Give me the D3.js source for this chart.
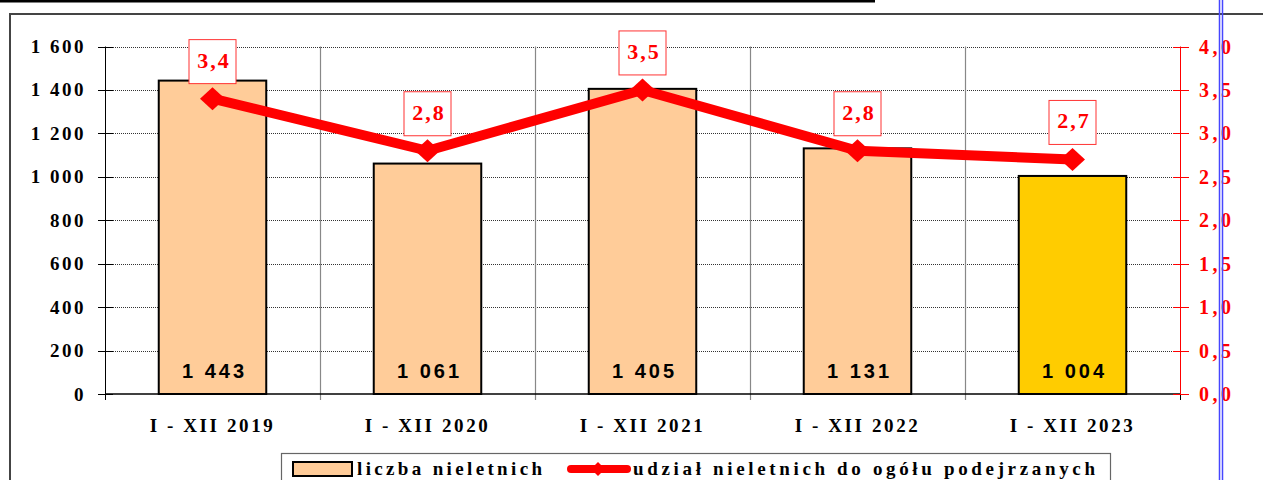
<!DOCTYPE html>
<html>
<head>
<meta charset="utf-8">
<script src="https://cdn.jsdelivr.net/npm/d3@7"></script>
<style>
  body { margin: 0; background: #fff; }
  svg { display: block; }
</style>
</head>
<body>
<svg width="1263" height="480"></svg>
<script>
// data
var categories = ["I - XII 2019", "I - XII 2020", "I - XII 2021", "I - XII 2022", "I - XII 2023"];
var counts = [1443, 1061, 1405, 1131, 1004];
var shares = [3.4, 2.8, 3.5, 2.8, 2.7];
var leftTicks = [0, 200, 400, 600, 800, 1000, 1200, 1400, 1600];
var rightTicks = [0, 0.5, 1, 1.5, 2, 2.5, 3, 3.5, 4];
var legendLabels = ["liczba nieletnich", "udział nieletnich do ogółu podejrzanych"];

var svg = d3.select("svg");
var serif = "'Liberation Serif', 'Times New Roman', serif";
var sans = "'Liberation Sans', Arial, sans-serif";

var plot = {left: 105, right: 1180, top: 46.5, bottom: 394};

// scales
var x = d3.scaleBand().domain(categories).range([plot.left, plot.right]);
var yLeft = d3.scaleLinear().domain([0, 1600]).range([plot.bottom, plot.top]);
var yRight = d3.scaleLinear().domain([0, 4]).range([plot.bottom, plot.top]);
var comma = function(v) { return d3.format(".1f")(v).replace(".", ","); };
var spaced = function(v) { return d3.format(",")(v).replace(/,/g, " "); };

// cut-off title underline and outer frame
svg.append("rect").attr("x", 0).attr("y", 0).attr("width", 875).attr("height", 2.5).attr("fill", "#000");
svg.append("path")
  .attr("d", "M10,480 V14 H1263")
  .attr("fill", "none").attr("stroke", "#444").attr("stroke-width", 2);

// horizontal gridlines
svg.append("g").selectAll("line")
  .data(leftTicks.slice(1))
  .enter().append("line")
  .attr("x1", plot.left).attr("x2", plot.right)
  .attr("y1", function(d) { return Math.round(yLeft(d)) + 0.5; })
  .attr("y2", function(d) { return Math.round(yLeft(d)) + 0.5; })
  .attr("stroke", "#333").attr("stroke-width", 1).attr("stroke-dasharray", "1,1");

// vertical gridlines at category boundaries
svg.append("g").selectAll("line")
  .data(categories.slice(1))
  .enter().append("line")
  .attr("x1", function(d) { return Math.round(x(d)) + 0.5; })
  .attr("x2", function(d) { return Math.round(x(d)) + 0.5; })
  .attr("y1", plot.top).attr("y2", plot.bottom + 6)
  .attr("stroke", "#888").attr("stroke-width", 1.2);

// bars
svg.append("g").selectAll("rect")
  .data(counts)
  .enter().append("rect")
  .attr("x", function(d, i) { return x(categories[i]) + x.bandwidth() / 4; })
  .attr("width", x.bandwidth() / 2)
  .attr("y", function(d) { return yLeft(d); })
  .attr("height", function(d) { return plot.bottom - yLeft(d); })
  .attr("fill", function(d, i) { return i === 4 ? "#FFCC00" : "#FFCC99"; })
  .attr("stroke", "#000").attr("stroke-width", 2);

// bar value labels
svg.append("g").selectAll("text")
  .data(counts)
  .enter().append("text")
  .attr("x", function(d, i) { return x(categories[i]) + x.bandwidth() / 2 + 2; })
  .attr("y", 378)
  .attr("text-anchor", "middle")
  .attr("font-family", sans).attr("font-weight", "bold").attr("font-size", 20)
  .attr("letter-spacing", 3)
  .text(function(d) { return spaced(d); });

// left axis
var gl = svg.append("g");
gl.append("line").attr("x1", plot.left + 0.5).attr("x2", plot.left + 0.5)
  .attr("y1", plot.top).attr("y2", plot.bottom + 6).attr("stroke", "#000");
gl.selectAll(".tk").data(leftTicks).enter().append("line")
  .attr("x1", 98).attr("x2", 113)
  .attr("y1", function(d) { return Math.round(yLeft(d)) + 0.5; })
  .attr("y2", function(d) { return Math.round(yLeft(d)) + 0.5; })
  .attr("stroke", "#000");
gl.selectAll("text").data(leftTicks).enter().append("text")
  .attr("x", 86)
  .attr("y", function(d) { return yLeft(d) + 6.5; })
  .attr("text-anchor", "end")
  .attr("font-family", serif).attr("font-weight", "bold").attr("font-size", 19)
  .attr("letter-spacing", 2.5)
  .text(function(d) { return spaced(d); });

// category axis
var gx = svg.append("g");
gx.append("line").attr("x1", plot.left).attr("x2", plot.right)
  .attr("y1", plot.bottom).attr("y2", plot.bottom).attr("stroke", "#000").attr("stroke-width", 1.5);
gx.append("line").attr("x1", plot.right + 0.5).attr("x2", plot.right + 0.5)
  .attr("y1", plot.bottom).attr("y2", plot.bottom + 6).attr("stroke", "#000");
gx.selectAll("text").data(categories).enter().append("text")
  .attr("x", function(d) { return x(d) + x.bandwidth() / 2; })
  .attr("y", 432)
  .attr("text-anchor", "middle")
  .attr("font-family", serif).attr("font-weight", "bold").attr("font-size", 19)
  .attr("letter-spacing", 2.6)
  .text(function(d) { return d; });

// right axis (red)
var gr = svg.append("g");
gr.append("line").attr("x1", plot.right + 0.5).attr("x2", plot.right + 0.5)
  .attr("y1", plot.top).attr("y2", plot.bottom).attr("stroke", "#f00");
gr.selectAll(".tk").data(rightTicks).enter().append("line")
  .attr("x1", 1173).attr("x2", 1189)
  .attr("y1", function(d) { return Math.round(yRight(d)) + 0.5; })
  .attr("y2", function(d) { return Math.round(yRight(d)) + 0.5; })
  .attr("stroke", "#f00");
gr.selectAll("text").data(rightTicks).enter().append("text")
  .attr("x", 1199)
  .attr("y", function(d) { return yRight(d) + 7; })
  .attr("fill", "#f00")
  .attr("font-family", serif).attr("font-weight", "bold").attr("font-size", 20)
  .attr("letter-spacing", 3.5)
  .text(function(d) { return comma(d); });

// share line
var line = d3.line()
  .x(function(d, i) { return x(categories[i]) + x.bandwidth() / 2; })
  .y(function(d) { return yRight(d); });
svg.append("path").datum(shares)
  .attr("d", line)
  .attr("fill", "none").attr("stroke", "#f00").attr("stroke-width", 10)
  .attr("stroke-linejoin", "round");
svg.append("g").selectAll("path")
  .data(shares)
  .enter().append("path")
  .attr("transform", function(d, i) { return "translate(" + (x(categories[i]) + x.bandwidth() / 2) + "," + yRight(d) + ")"; })
  .attr("d", "M-12.5,0 L0,-11.5 L12.5,0 L0,11.5 Z")
  .attr("fill", "#f00");

// share labels in boxes
var lab = svg.append("g").selectAll("g")
  .data(shares)
  .enter().append("g")
  .attr("transform", function(d, i) { return "translate(" + (x(categories[i]) + x.bandwidth() / 2) + "," + (yRight(d) - 15) + ")"; });
lab.append("rect")
  .attr("x", -23.5).attr("y", -44).attr("width", 47).attr("height", 44)
  .attr("fill", "#fff").attr("stroke", "#f33").attr("stroke-width", 1);
lab.append("text")
  .attr("x", 1.5).attr("y", -16)
  .attr("text-anchor", "middle")
  .attr("fill", "#f00")
  .attr("font-family", serif).attr("font-weight", "bold").attr("font-size", 22)
  .attr("letter-spacing", 2)
  .text(function(d) { return comma(d); });

// blue page guide
svg.append("line").attr("x1", 1219.5).attr("x2", 1219.5).attr("y1", 0).attr("y2", 480)
  .attr("stroke", "#4646ff").attr("stroke-width", 1.5);
svg.append("line").attr("x1", 1222.5).attr("x2", 1222.5).attr("y1", 0).attr("y2", 480)
  .attr("stroke", "#4646ff").attr("stroke-width", 1.5);

// legend
var lg = svg.append("g");
lg.append("rect").attr("x", 281.5).attr("y", 453.5).attr("width", 829).attr("height", 40)
  .attr("fill", "#fff").attr("stroke", "#666").attr("stroke-width", 1.2);
lg.append("rect").attr("x", 293).attr("y", 462).attr("width", 59).attr("height", 14)
  .attr("fill", "#FFCC99").attr("stroke", "#000").attr("stroke-width", 2);
lg.append("text").attr("x", 357).attr("y", 475)
  .attr("font-family", serif).attr("font-weight", "bold").attr("font-size", 19)
  .attr("textLength", 185).attr("lengthAdjust", "spacing")
  .text(legendLabels[0]);
lg.append("line").attr("x1", 571).attr("x2", 627).attr("y1", 469).attr("y2", 469)
  .attr("stroke", "#f00").attr("stroke-width", 8).attr("stroke-linecap", "round");
lg.append("path").attr("transform", "translate(598,469)")
  .attr("d", "M-7,0 L0,-7 L7,0 L0,7 Z").attr("fill", "#f00");
lg.append("text").attr("x", 633).attr("y", 475)
  .attr("font-family", serif).attr("font-weight", "bold").attr("font-size", 19)
  .attr("textLength", 462).attr("lengthAdjust", "spacing")
  .text(legendLabels[1]);
</script>
</body>
</html>
